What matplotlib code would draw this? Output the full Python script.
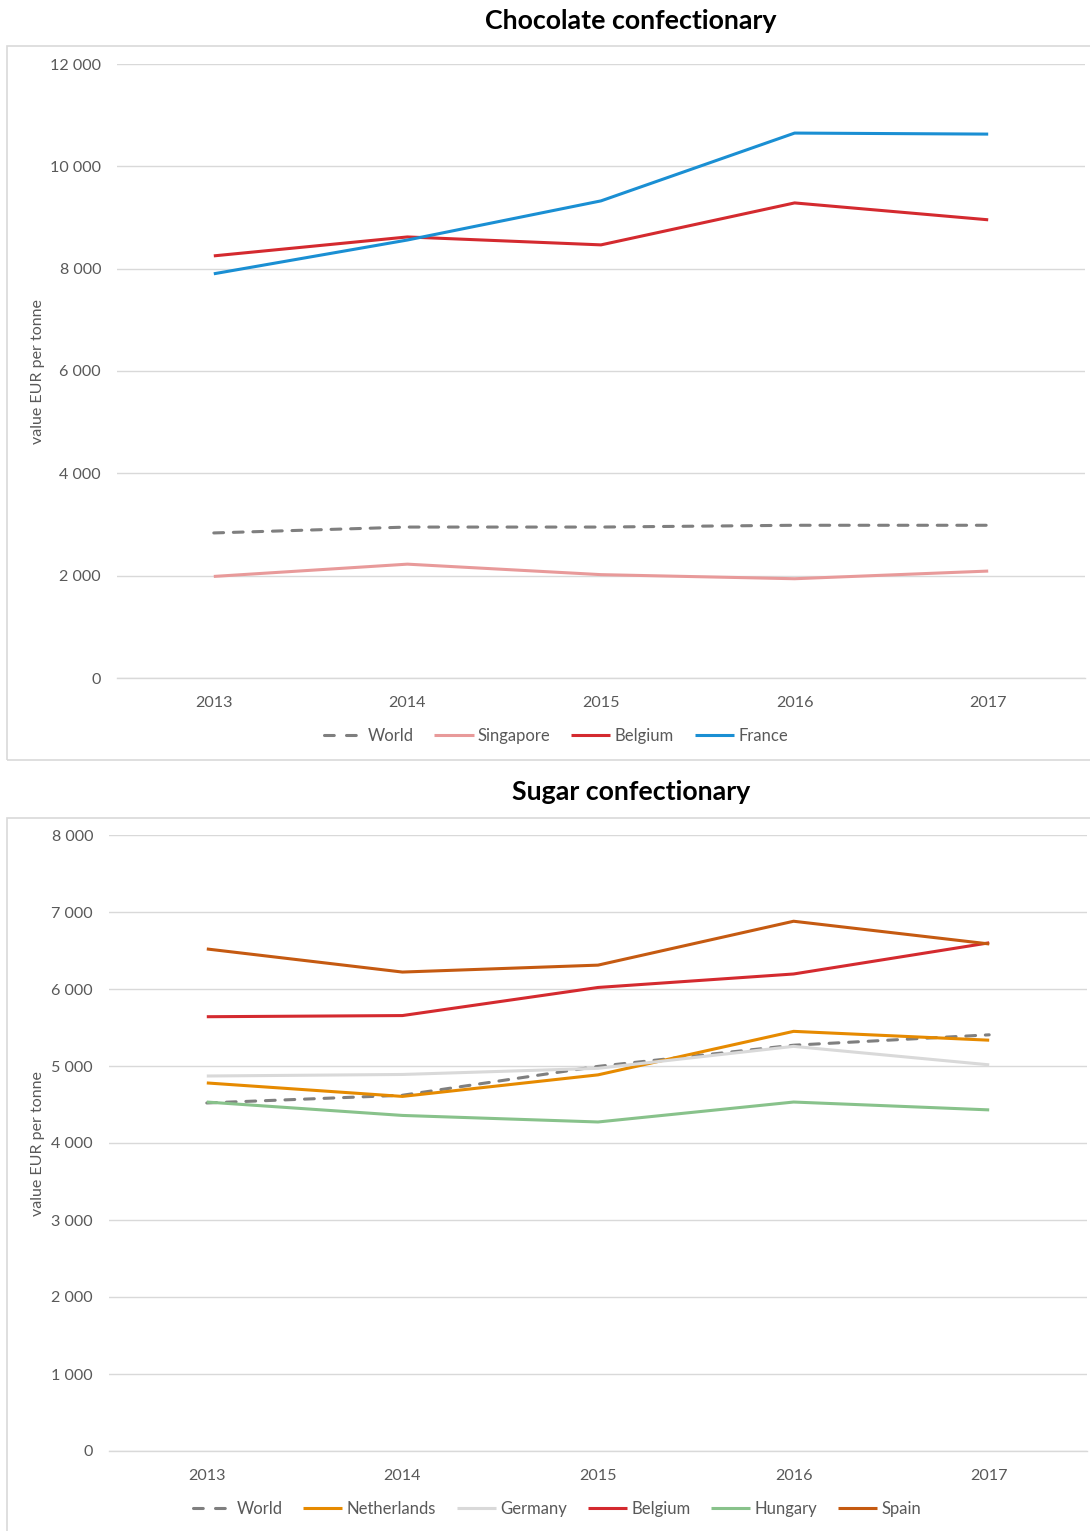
import matplotlib
matplotlib.use("Agg")
import matplotlib.pyplot as plt
from matplotlib.patches import Rectangle
from matplotlib.ticker import FuncFormatter

plt.rcParams['font.family'] = ['Lato', 'DejaVu Sans']

years = ['2013', '2014', '2015', '2016', '2017']

# Chocolate confectionary, value EUR per tonne
choc_world = [2835, 2950, 2950, 2985, 2985]
choc_singapore = [1985, 2225, 2020, 1940, 2090]
choc_belgium = [8250, 8620, 8465, 9285, 8955]
choc_france = [7900, 8560, 9325, 10650, 10630]

# Sugar confectionary, value EUR per tonne
sug_world = [4520, 4620, 4995, 5270, 5405]
sug_netherlands = [4780, 4605, 4885, 5450, 5335]
sug_germany = [4870, 4890, 4970, 5255, 5015]
sug_belgium = [5640, 5655, 6020, 6195, 6600]
sug_hungary = [4532, 4358, 4273, 4532, 4430]
sug_spain = [6520, 6220, 6310, 6880, 6585]

GRID = '#d9d9d9'
TXT = '#595959'
LW = 2.2

W, H = 1090, 1531
fig = plt.figure(figsize=(W / 100, H / 100), dpi=100)


def fx(px):
    return px / W


def fy(py):
    return 1 - py / H


def thousands(v, _):
    return f"{int(v):,}".replace(',', ' ')


def style_axes(ax, ymax, step):
    x = range(len(years))
    ax.set_xlim(-0.5, len(years) - 0.5)
    ax.set_ylim(0, ymax)
    ax.set_xticks(list(x))
    ax.set_xticklabels(years)
    ax.set_yticks(range(0, ymax + 1, step))
    ax.yaxis.set_major_formatter(FuncFormatter(thousands))
    for s in ['top', 'left', 'right']:
        ax.spines[s].set_visible(False)
    ax.spines['bottom'].set_color(GRID)
    ax.spines['bottom'].set_linewidth(1)
    ax.grid(axis='y', color=GRID, linewidth=1)
    ax.set_axisbelow(True)
    ax.tick_params(axis='both', length=0, labelsize=11.6, labelcolor=TXT)
    ax.tick_params(axis='y', pad=11.5)
    ax.tick_params(axis='x', pad=13)


def draw_series(ax, series):
    handles = []
    for label, vals, color, dashed in series:
        if dashed:
            h, = ax.plot(range(len(vals)), vals, color=color, lw=LW,
                         dashes=(3.2, 3.2), dash_capstyle='round', label=label)
        else:
            h, = ax.plot(range(len(vals)), vals, color=color, lw=LW,
                         solid_capstyle='butt', label=label)
        handles.append(h)
    return handles


def add_legend(handles, cx, cy):
    leg = fig.legend(handles=handles, loc='center', bbox_to_anchor=(fx(cx), fy(cy)),
                     ncol=len(handles), frameon=False, fontsize=12, labelcolor=TXT,
                     handlelength=2.35, handletextpad=0.25, columnspacing=1.25)
    # two clean dashes for the World key
    for line in leg.get_lines():
        if line.get_label() == 'World':
            line.set_dashes((3.2, 4.0))
            line.set_dash_capstyle('round')
    return leg


# Panel frames
fig.patches.append(Rectangle((fx(7), fy(760)), fx(1095 - 7), (760 - 46) / H,
                             transform=fig.transFigure, fill=False,
                             edgecolor=GRID, linewidth=1.2))
fig.patches.append(Rectangle((fx(7), fy(1545)), fx(1095 - 7), (1545 - 818) / H,
                             transform=fig.transFigure, fill=False,
                             edgecolor=GRID, linewidth=1.2))

# Chocolate panel
ax1 = fig.add_axes([fx(117), fy(678), fx(1085 - 117), (678 - 64) / H])
style_axes(ax1, 12000, 2000)
h1 = draw_series(ax1, [
    ('World', choc_world, '#7f7f7f', True),
    ('Singapore', choc_singapore, '#e89a9a', False),
    ('Belgium', choc_belgium, '#d42a2f', False),
    ('France', choc_france, '#1a8fd3', False),
])
fig.text(fx(631), fy(21), 'Chocolate confectionary', ha='center', va='center',
         fontsize=19.3, fontweight='bold', color='black')
fig.text(fx(38), fy(372), 'value EUR per tonne', ha='center', va='center',
         rotation=90, fontsize=11.5, color=TXT)
add_legend(h1, 556, 736)

# Sugar panel
ax2 = fig.add_axes([fx(109), fy(1451), fx(1087 - 109), (1451 - 835) / H])
style_axes(ax2, 8000, 1000)
h2 = draw_series(ax2, [
    ('World', sug_world, '#7f7f7f', True),
    ('Netherlands', sug_netherlands, '#e68a00', False),
    ('Germany', sug_germany, '#d9d9d9', False),
    ('Belgium', sug_belgium, '#d42a2f', False),
    ('Hungary', sug_hungary, '#88c28b', False),
    ('Spain', sug_spain, '#c55a11', False),
])
fig.text(fx(631), fy(792), 'Sugar confectionary', ha='center', va='center',
         fontsize=19.3, fontweight='bold', color='black')
fig.text(fx(38), fy(1144), 'value EUR per tonne', ha='center', va='center',
         rotation=90, fontsize=11.5, color=TXT)
add_legend(h2, 557, 1509)

fig.savefig('out.png', dpi=100)
